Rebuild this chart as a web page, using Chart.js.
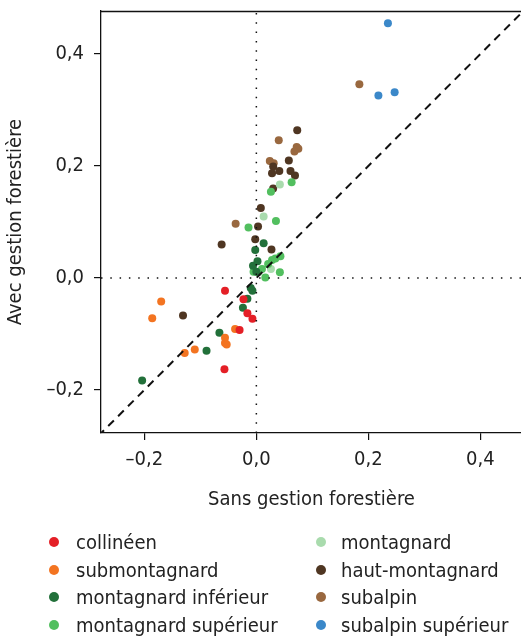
<!DOCTYPE html>
<html>
<head>
<meta charset="utf-8">
<script src="https://cdn.jsdelivr.net/npm/chart.js@4/dist/chart.umd.min.js"></script>
<style>
  html, body { margin: 0; padding: 0; background: #fff; overflow: hidden; }
  #wrap { position: relative; width: 521px; height: 636px; overflow: hidden; }
  #chart { position: absolute; left: 0; top: 0; }
  .legend { position: absolute; font-family: "Liberation Sans Narrow", "DejaVu Sans Condensed", sans-serif; font-size: 20px; color: #222; }
  .legend div { position: absolute; white-space: nowrap; height: 24px; line-height: 24px; }
  .legend span { position: absolute; left: -27px; top: 7px; width: 10px; height: 10px; border-radius: 50%; }
</style>
</head>
<body>
<div id="wrap">
  <canvas id="chart" width="526" height="636"></canvas>
  <div class="legend" id="legend"></div>
</div>
<script>
const categories = ['collinéen', 'submontagnard', 'montagnard inférieur', 'montagnard supérieur',
  'montagnard', 'haut-montagnard', 'subalpin', 'subalpin supérieur'];
const colors = ['#e41f26', '#f37421', '#22703a', '#52bf5f', '#a9dbad', '#4f3622', '#99683f', '#3b88c9'];

// [sans gestion, avec gestion]
const collineen = [[-0.056, -0.023], [-0.023, -0.038], [-0.016, -0.063], [-0.007, -0.073], [-0.030, -0.093], [-0.057, -0.163]];
const submontagnard = [[-0.170, -0.042], [-0.186, -0.072], [-0.038, -0.091], [-0.056, -0.107], [-0.056, -0.116],
  [-0.053, -0.119], [-0.110, -0.128], [-0.128, -0.134]];
const montagnardInf = [[-0.204, -0.183], [-0.089, -0.130], [-0.066, -0.098], [-0.024, -0.053], [-0.016, -0.037],
  [-0.010, -0.018], [-0.007, -0.023], [-0.006, 0.022], [0.002, 0.030], [0.000, 0.011], [-0.002, 0.050], [0.013, 0.062]];
const montagnardSup = [[0.063, 0.171], [0.026, 0.154], [0.035, 0.102], [-0.014, 0.090], [0.043, 0.039], [0.034, 0.035],
  [0.028, 0.032], [0.021, 0.025], [-0.005, 0.011], [0.003, 0.010], [0.016, 0.001], [0.042, 0.010], [0.010, 0.016]];
const montagnard = [[0.042, 0.167], [0.013, 0.110], [0.026, 0.016]];
const hautMontagnard = [[0.073, 0.264], [0.058, 0.210], [0.030, 0.199], [0.028, 0.187], [0.041, 0.191], [0.061, 0.191],
  [0.069, 0.183], [0.030, 0.160], [0.008, 0.125], [0.003, 0.092], [-0.002, 0.069], [0.027, 0.051], [-0.062, 0.060], [-0.131, -0.067]];
const subalpin = [[0.184, 0.346], [0.040, 0.246], [0.072, 0.234], [0.075, 0.231], [0.068, 0.226], [0.024, 0.209],
  [0.031, 0.205], [-0.037, 0.097]];
const subalpinSup = [[0.235, 0.455], [0.218, 0.326], [0.247, 0.332]];

const series = [collineen, submontagnard, montagnardInf, montagnardSup, montagnard, hautMontagnard, subalpin, subalpinSup];

const xMin = -0.2775, xMax = 0.4745;
const yMin = -0.277, yMax = 0.477;
const tickValues = [-0.2, 0.0, 0.2, 0.4];

const FONT = '"Liberation Sans Narrow", "DejaVu Sans Condensed", sans-serif';
const TEXT = '#222';

const fmt = v => {
  const r = Math.round(v * 10) / 10;
  return (r < 0 ? '\u2013' : '') + Math.abs(r).toFixed(1).replace('.', ',');
};

let datasets = [];

// reference lines
datasets.push({
  type: 'line', data: [{x: -0.3, y: -0.3}, {x: 0.5, y: 0.5}],
  borderColor: '#111', borderWidth: 2, borderDash: [8, 6], pointRadius: 0, order: 0
});
datasets.push({
  type: 'line', data: [{x: 0, y: yMin}, {x: 0, y: yMax}],
  borderColor: '#111', borderWidth: 1.5, borderDash: [1.5, 7.8], pointRadius: 0, order: 0
});
datasets.push({
  type: 'line', data: [{x: xMin, y: 0}, {x: xMax, y: 0}],
  borderColor: '#111', borderWidth: 1.5, borderDash: [1.5, 7.8], pointRadius: 0, order: 0
});

series.forEach((rows, i) => {
  datasets.push({
    label: categories[i],
    data: rows.map(r => ({x: r[0], y: r[1]})),
    backgroundColor: colors[i],
    borderColor: colors[i],
    borderWidth: 0,
    pointRadius: 4,
    order: 1
  });
});

const topLine = {
  id: 'topLine',
  afterDraw(chart) {
    const {ctx, chartArea} = chart;
    ctx.save();
    ctx.strokeStyle = '#111';
    ctx.lineWidth = 1.3;
    ctx.beginPath();
    ctx.moveTo(chartArea.left, chartArea.top + 0.5);
    ctx.lineTo(chartArea.right, chartArea.top + 0.5);
    ctx.stroke();
    ctx.restore();
  }
};

const axisCommon = {
  type: 'linear',
  grid: { display: true, drawOnChartArea: false, drawTicks: true, tickLength: 7, color: '#111', lineWidth: 1.2 },
  border: { display: true, color: '#111', width: 1.3 },
};

new Chart(document.getElementById('chart'), {
  type: 'scatter',
  data: { datasets: datasets },
  plugins: [topLine],
  options: {
    responsive: false,
    animation: false,
    layout: { padding: { top: 11, right: 0, bottom: 120, left: 0 } },
    plugins: { legend: { display: false }, tooltip: { enabled: false } },
    scales: {
      x: Object.assign({}, axisCommon, {
        min: xMin, max: xMax,
        afterBuildTicks: s => { s.ticks = tickValues.map(v => ({value: v})); },
        afterFit: s => { s.height = 83; s.paddingLeft = 0; s.paddingRight = 0; },
        ticks: { callback: fmt, color: TEXT, font: {family: FONT, size: 20}, padding: 8, maxRotation: 0 },
        title: { display: true, text: 'Sans gestion forestière', color: TEXT, font: {family: FONT, size: 20}, padding: {top: 0, bottom: 4} }
      }),
      y: Object.assign({}, axisCommon, {
        min: yMin, max: yMax,
        afterBuildTicks: s => { s.ticks = tickValues.map(v => ({value: v})); },
        afterFit: s => { s.width = 101; s.paddingTop = 0; s.paddingBottom = 0; },
        ticks: { callback: fmt, color: TEXT, font: {family: FONT, size: 20}, padding: 10 },
        title: { display: true, text: 'Avec gestion forestière', color: TEXT, font: {family: FONT, size: 20}, padding: {top: 4, bottom: 0} }
      })
    }
  }
});

// two-column legend
const legend = document.getElementById('legend');
const rowsY = [530, 557.5, 585, 612.5];
categories.forEach((name, i) => {
  const col = Math.floor(i / 4), row = i % 4;
  const item = document.createElement('div');
  item.style.left = (col === 0 ? 76 : 341) + 'px';
  item.style.top = rowsY[row] + 'px';
  const dot = document.createElement('span');
  dot.style.background = colors[i];
  if (col === 1) dot.style.left = '-25px';
  item.appendChild(dot);
  item.appendChild(document.createTextNode(name));
  legend.appendChild(item);
});
</script>
</body>
</html>
